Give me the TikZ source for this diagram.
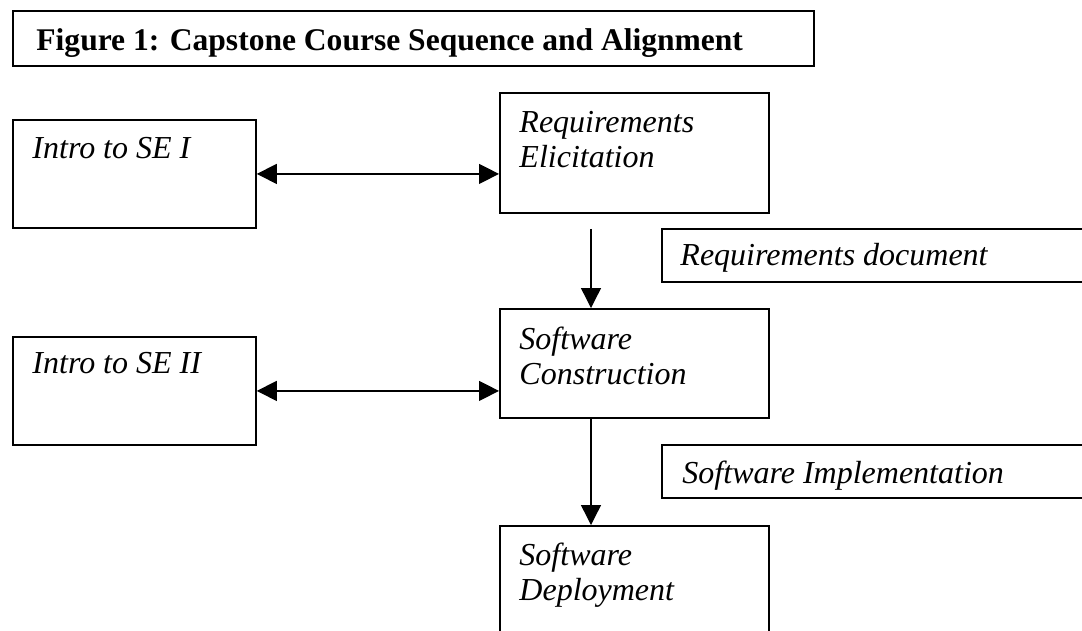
\documentclass[tikz,border=0pt]{standalone}
\usepackage{fontspec}
\setmainfont{Liberation Serif}
\usepackage{tikz}
\usetikzlibrary{positioning, arrows, arrows.meta}
\usetikzlibrary{calc}

\begin{document}
\begin{tikzpicture}[x=0.4375pt, y=-0.4375pt,
  box/.style={draw, line width=0.8pt, rectangle, anchor=north west, inner sep=0pt},
  course/.style={box, minimum width=106.3pt, minimum height=47.25pt},
  stage/.style={box, minimum width=117.7pt},
  outcome/.style={box, minimum width=200pt, minimum height=23.4pt},
  txt/.style={anchor=base west, inner sep=0pt, align=left, font=\fontsize{14}{15.3}\selectfont\itshape},
  arr/.style={line width=0.6pt, -{Triangle[length=8.75pt, width=8.75pt]}},
  both/.style={line width=0.6pt, {Triangle[length=8.75pt, width=8.75pt]}-{Triangle[length=8.75pt, width=8.75pt]}}]
\useasboundingbox (0,0) rectangle (1082,630);
% title
\node[box, minimum width=350.4pt, minimum height=24.1pt] (title) at (12,10) {};
\node[anchor=base west, inner sep=0pt, font=\fontsize{13.8}{16}\selectfont\bfseries] (titletxt)
  at ([shift={(24,40)}]title.north west) {Figure 1: Capstone Course Sequence and Alignment};
% courses on the left
\node[course] (se1) at (12,119) {};
\node[txt] (se1txt) at ([shift={(20,39)}]se1.north west) {Intro to SE I};
\node[course] (se2) at (12,336) {};
\node[txt] (se2txt) at ([shift={(20,37)}]se2.north west) {Intro to SE II};
% capstone stages (base anchor = last line)
\node[stage, minimum height=52.5pt] (req) at (499,92) {};
\node[txt] (reqtxt) at ([shift={(20,75)}]req.north west) {Requirements\\Elicitation};
\node[stage, minimum height=47.7pt] (cons) at (499,308) {};
\node[txt] (constxt) at ([shift={(20,76)}]cons.north west) {Software\\Construction};
\node[stage, minimum height=70pt] (deploy) at (499,525) {};
\node[txt] (deploytxt) at ([shift={(20,75)}]deploy.north west) {Software\\Deployment};
% deliverables
\node[outcome] (reqdoc) at (661,228) {};
\node[txt] (reqdoctxt) at ([shift={(19,37)}]reqdoc.north west) {Requirements document};
\node[outcome] (impl) at (661,444) {};
\node[txt] (impltxt) at ([shift={(21,39)}]impl.north west) {Software Implementation};
% connectors
\draw[both] (se1.east) -- (se1.east -| req.west);
\draw[both] (se2.east) -- (se2.east -| cons.west);
\draw[arr] ([shift={(92,15)}]req.south west) -- ([shift={(92,0)}]cons.north west);
\draw[arr] ([shift={(92,0)}]cons.south west) -- ([shift={(92,0)}]deploy.north west);
\end{tikzpicture}
\end{document}
